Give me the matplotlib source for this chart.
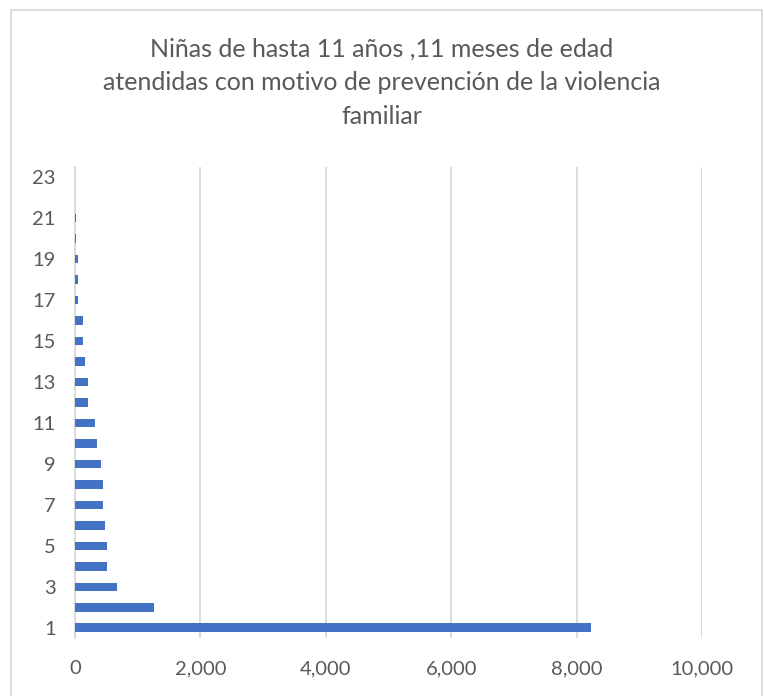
import matplotlib
matplotlib.use("Agg")
import matplotlib.pyplot as plt
from matplotlib.patches import Rectangle

# data
categorias = list(range(1, 24))
valores = [8230, 1255, 665, 505, 505, 478, 441, 441, 410, 346, 314, 212,
           207, 160, 133, 133, 55, 40, 45, 10, 8, 6, 3]
titulo = ("Niñas de hasta 11 años ,11 meses de edad\n"
          "atendidas con motivo de prevención de la violencia\n"
          "familiar")

gris = "#595959"
linea = "#d9d9d9"
azul = "#4472C4"

plt.rcParams['font.family'] = ['Lato', 'DejaVu Sans']

fig = plt.figure(figsize=(7.64, 6.96), dpi=100)
ax = fig.add_axes([75 / 764, 1 - 638 / 696, (702 - 75) / 764, (638 - 167) / 696])

ax.barh(categorias, valores, height=0.42, color=azul, zorder=3)

ax.set_xlim(0, 10000)
ax.set_ylim(0.5, 23.5)
ax.set_xticks(range(0, 10001, 2000))
ax.set_xticklabels([f"{v:,}" for v in range(0, 10001, 2000)])
ax.set_yticks(categorias[::2])
ax.tick_params(length=0, labelsize=14.5, colors=gris)
ax.tick_params(axis='y', pad=14)
ax.tick_params(axis='x', pad=16)

ax.grid(axis='x', color=linea, linewidth=1.3, zorder=0)
for s in ['top', 'right', 'bottom']:
    ax.spines[s].set_visible(False)
ax.spines['left'].set_color(linea)
ax.spines['left'].set_linewidth(1.3)

fig.text(0.5, 1 - 83 / 696, titulo, ha='center', va='center', fontsize=18,
         color=gris, linespacing=1.55)

# outer chart border
fig.patches.append(Rectangle((11 / 764, -0.01), 751 / 764, 1 - 10 / 696 + 0.01,
                             transform=fig.transFigure, fill=False,
                             edgecolor=linea, linewidth=1.3))

plt.savefig("out.png", dpi=100)
